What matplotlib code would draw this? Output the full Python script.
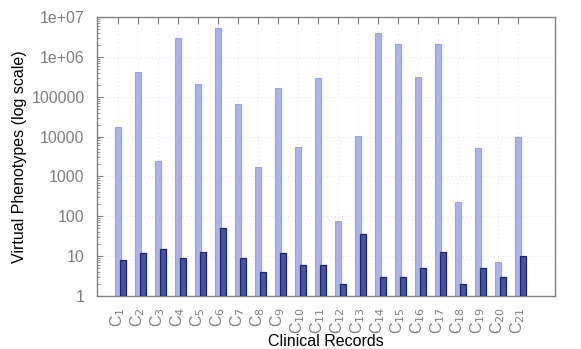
import numpy as np
import matplotlib
matplotlib.use('Agg')
import matplotlib.pyplot as plt
from matplotlib.ticker import FixedLocator, LogLocator, NullFormatter

records = ['C$_{%d}$' % i for i in range(1, 22)]
virtual = [17500, 420000, 2450, 3000000, 205000, 5400000, 66000, 1750, 166000, 5400,
           296000, 77, 10200, 4000000, 2150000, 316000, 2080000, 223, 5200, 6, 9500]
observed = [8, 12, 15, 9, 13, 50, 9, 4, 12, 6, 6, 2, 36, 3, 3, 5, 13, 2, 5, 3, 10]
ytick_vals = [1, 10, 100, 1000, 10000, 100000, 1e6, 1e7]
ytick_labels = ['1', '10', '100', '1000', '10000', '100000', '1e+06', '1e+07']

plt.rcParams['font.family'] = ['Liberation Sans', 'DejaVu Sans']
GRAY = '#808080'

fig = plt.figure(figsize=(5.81, 3.49), dpi=100)
ax = fig.add_axes([0.167, 0.152, 0.788, 0.799])

x = np.arange(1, len(records) + 1)
ax.bar(x, virtual, width=0.3, bottom=1, color='#aab3f2', edgecolor='#97a2ee',
       linewidth=0.8, zorder=2)
ax.bar(x + 0.25, np.array(observed) - 1, width=0.3, bottom=1, color='#46549a',
       edgecolor='#1a237a', linewidth=0.9, zorder=3)

ax.set_yscale('log')
ax.set_ylim(1, 1e7)
ax.set_xlim(-0.05, 22.85)
ax.yaxis.set_major_locator(FixedLocator(ytick_vals))
ax.set_yticklabels(ytick_labels)
ax.yaxis.set_minor_locator(LogLocator(base=10, subs=np.arange(2, 10)))
ax.yaxis.set_minor_formatter(NullFormatter())
ax.set_xticks(x)
ax.set_xticklabels(records, rotation=90)

ax.tick_params(axis='both', which='both', direction='in', colors=GRAY,
               labelcolor=GRAY, labelsize=11.5)
ax.tick_params(axis='x', which='both', top=True, length=5, width=0.8, pad=8)
ax.tick_params(axis='y', which='major', length=4, width=0.8, pad=9)
ax.tick_params(axis='y', which='minor', length=2, width=0.6)

ax.grid(True, which='major', color='#e2e2e2', linestyle=(0, (1, 3)), linewidth=0.7, zorder=0)
for s in ax.spines.values():
    s.set_color(GRAY)
    s.set_linewidth(1.0)

ax.set_ylabel('Virtual Phenotypes (log scale)', fontsize=11.5, color='black', labelpad=3)
ax.set_xlabel('Clinical Records', fontsize=11.5, color='black', labelpad=0)

fig.savefig('out.png', dpi=100)
